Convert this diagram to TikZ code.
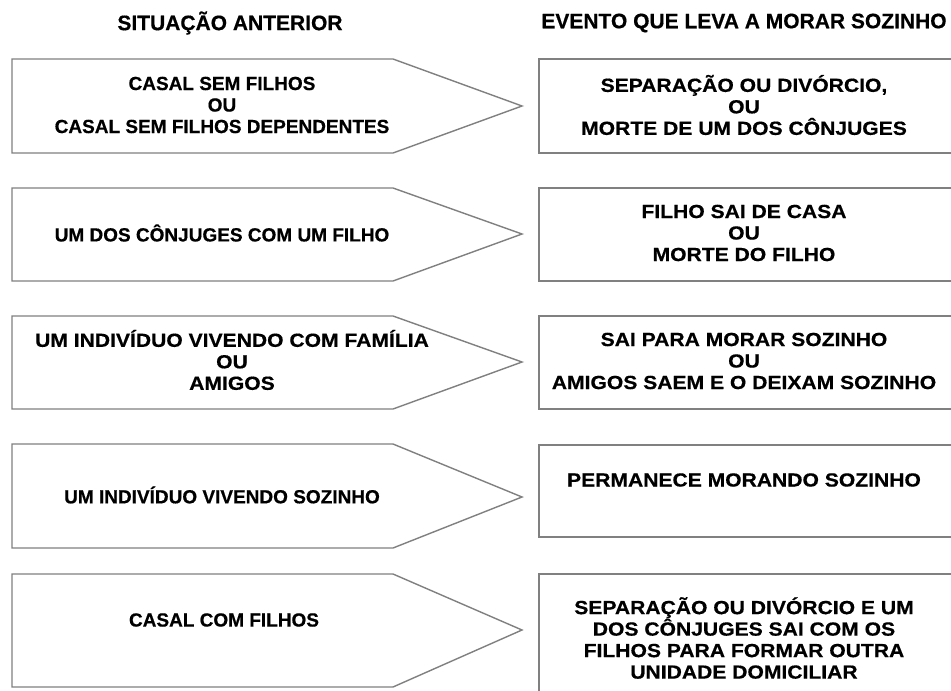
\documentclass[tikz,border=0pt]{standalone}
\usepackage{fontspec}
\setmainfont{Liberation Sans}
\definecolor{edge}{RGB}{128,128,128}
\begin{document}
\begin{tikzpicture}[x=1pt,y=-1pt]
\tikzstyle{every node}+=[inner sep=0pt, align=center, font=\bfseries\fontsize{19}{21.5}\selectfont\addfontfeature{FakeBold=0.5}]
\tikzstyle{wide}=[font=\bfseries\fontsize{19}{21.5}\selectfont\addfontfeature{FakeStretch=1.11,FakeBold=0.5}]
\tikzstyle{head}=[font=\bfseries\fontsize{21}{23}\selectfont\addfontfeature{FakeBold=0.5}]
\tikzstyle{frame}=[draw=edge, line width=1.4pt, fill=white]
\clip (0,0) rectangle (951,691);
\fill [white] (0,0) rectangle (951,691);
% headers
\node [head] (headL) at (230,23) {SITUAÇÃO ANTERIOR};
\node [head] (headR) at (744,23) {EVENTO QUE LEVA A MORAR SOZINHO};
% row 1
\draw [frame] (12,59) -- (393,59) -- (522,106) -- (393,153) -- (12,153) -- cycle;
\draw [frame] (539,59) rectangle (960,153);
\node (sit1) at (222,105) {CASAL SEM FILHOS\\OU\\CASAL SEM FILHOS DEPENDENTES};
\node [wide] (evt1) at (744,105) {SEPARAÇÃO OU DIVÓRCIO,\\OU\\MORTE DE UM DOS CÔNJUGES};
% row 2
\draw [frame] (12,188) -- (393,188) -- (522,234) -- (393,281) -- (12,281) -- cycle;
\draw [frame] (539,188) rectangle (960,281);
\node (sit2) at (222,233) {UM DOS CÔNJUGES COM UM FILHO};
\node [wide] (evt2) at (744,233) {FILHO SAI DE CASA\\OU\\MORTE DO FILHO};
% row 3
\draw [frame] (12,316) -- (393,316) -- (522,362) -- (393,409) -- (12,409) -- cycle;
\draw [frame] (539,316) rectangle (960,409);
\node [wide] (sit3) at (232,360) {UM INDIVÍDUO VIVENDO COM FAMÍLIA\\OU\\AMIGOS};
\node [wide] (evt3) at (744,361) {SAI PARA MORAR SOZINHO\\OU\\AMIGOS SAEM E O DEIXAM SOZINHO};
% row 4
\draw [frame] (12,444) -- (393,444) -- (522,497) -- (393,548) -- (12,548) -- cycle;
\draw [frame] (539,445) rectangle (960,537);
\node (sit4) at (222,495) {UM INDIVÍDUO VIVENDO SOZINHO};
\node [wide] (evt4) at (744,480) {PERMANECE MORANDO SOZINHO};
% row 5
\draw [frame] (12,574) -- (393,574) -- (522,630) -- (393,687) -- (12,687) -- cycle;
\draw [frame] (539,574) rectangle (960,700);
\node (sit5) at (224,620) {CASAL COM FILHOS};
\node [wide] (evt5) at (744,638) {SEPARAÇÃO OU DIVÓRCIO E UM\\DOS CÔNJUGES SAI COM OS\\FILHOS PARA FORMAR OUTRA\\UNIDADE DOMICILIAR};
\end{tikzpicture}
\end{document}
